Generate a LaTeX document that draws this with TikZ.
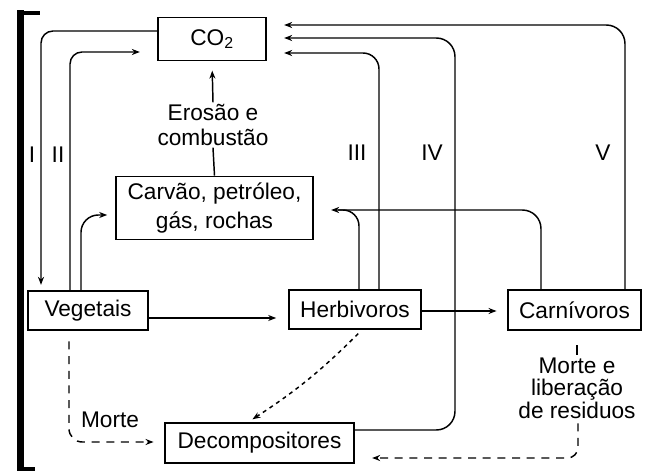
\documentclass[tikz,border=0pt]{standalone}
\usepackage{fontspec}
\setmainfont{Liberation Sans}
\usetikzlibrary{arrows.meta,calc}
\begin{document}
\begin{tikzpicture}[x=0.75pt,y=-0.75pt,
  font=\fontsize{17}{18.5}\selectfont,
  line width=1.1pt,
  box/.style={draw, line width=1.2pt, inner sep=0pt, align=center},
  lbl/.style={inner sep=1pt, align=center},
  arr/.style={-{Stealth[length=6pt,width=4.5pt]}},
  dsh/.style={dash pattern=on 6pt off 5pt},
  fdsh/.style={dash pattern=on 3pt off 3pt}]
\useasboundingbox (0,0) rectangle (651,474);
% bracket
\fill (17,10) rectangle (24,471);
\draw[line width=3pt] (20,13) -- (40,13);
\draw[line width=3pt] (20,469.5) -- (35,469.5);
% nodes
\node[box, minimum width=108*0.75pt, minimum height=43*0.75pt] (co2) at (212,39) {CO\textsubscript{2}};
\node[box, minimum width=197*0.75pt, minimum height=63*0.75pt, font=\fontsize{17}{22}\selectfont] (carv) at (214.5,208) {Carvão, petróleo,\\gás, rochas};
\node[box, minimum width=120*0.75pt, minimum height=39*0.75pt] (veg) at (88,310.5) {Vegetais};
\node[box, minimum width=132*0.75pt, minimum height=39*0.75pt] (herb) at (355,309.5) {Herbivoros};
\node[box, minimum width=133*0.75pt, minimum height=40*0.75pt] (carn) at (574.5,310) {Carnívoros};
\node[box, minimum width=189*0.75pt, minimum height=40*0.75pt] (dec) at (259.5,443) {Decompositores};
\node[lbl] (eros) at (213,125) {Erosão e\\combustão};
\node[lbl, font=\fontsize{17}{17}\selectfont] (morte) at (577,388) {Morte e\\liberação\\de residuos};
\node[lbl] (mveg) at (110,420) {Morte};
\node[lbl] (l1) at (32,155) {I};
\node[lbl] (l2) at (58,155) {II};
\node[lbl] (l3) at (357,153) {III};
\node[lbl] (l4) at (432,153) {IV};
\node[lbl] (l5) at (603,153) {V};
% connectors
\draw[arr, rounded corners=9pt, shorten >=4pt] (co2.west |- 0,31) -| (veg.north -| 41,0);
\draw[arr, rounded corners=9pt, shorten >=13pt] (veg.north -| 70,0) |- (co2.west |- 0,52);
\draw[arr, rounded corners=13pt, shorten >=6pt] (veg.north -| 81,0) |- (carv.west |- 0,215);
\draw (carv.north) -- (eros.south);
\draw[arr, shorten >=7pt] (eros.north) -- (co2.south);
\draw[arr, shorten >=9pt] (veg.east |- 0,318) -- (herb.west |- 0,318);
\draw[arr, shorten >=8pt] (herb.east |- 0,311) -- (carn.west |- 0,311);
\draw[arr, rounded corners=12pt, shorten >=13pt] (herb.north -| 379,0) |- (co2.east |- 0,53);
\draw[arr, rounded corners=14pt, shorten >=13pt] (dec.east |- 0,430) -- (455,430) -- (455,38) -- (co2.east |- 0,38);
\draw[arr, rounded corners=14pt, shorten >=13pt] (carn.north -| 625,0) |- (co2.east |- 0,25);
\draw[arr, rounded corners=14pt, shorten >=13pt] (carn.north -| 541,0) |- (carv.east |- 0,210);
\coordinate (jn) at (338,210);
\draw[rounded corners=12pt] (herb.north -| 359,0) |- (jn);
% dashed
\draw[arr, dsh, rounded corners=10pt, shorten <=8pt, shorten >=8pt] (veg.south -| 69,0) |- (dec.west |- 0,442);
\draw[arr, fdsh, shorten <=4pt, shorten >=4pt] (herb.south -| 362,0) to[bend left=6] (dec.north -| 248,0);
\draw[shorten <=11pt] (carn.south -| 577,0) -- (morte.north -| 577,0);
\draw[arr, dsh, rounded corners=8pt, shorten <=2pt, shorten >=13pt] (morte.south -| 578,0) |- (dec.east |- 0,458);
\end{tikzpicture}
\end{document}
